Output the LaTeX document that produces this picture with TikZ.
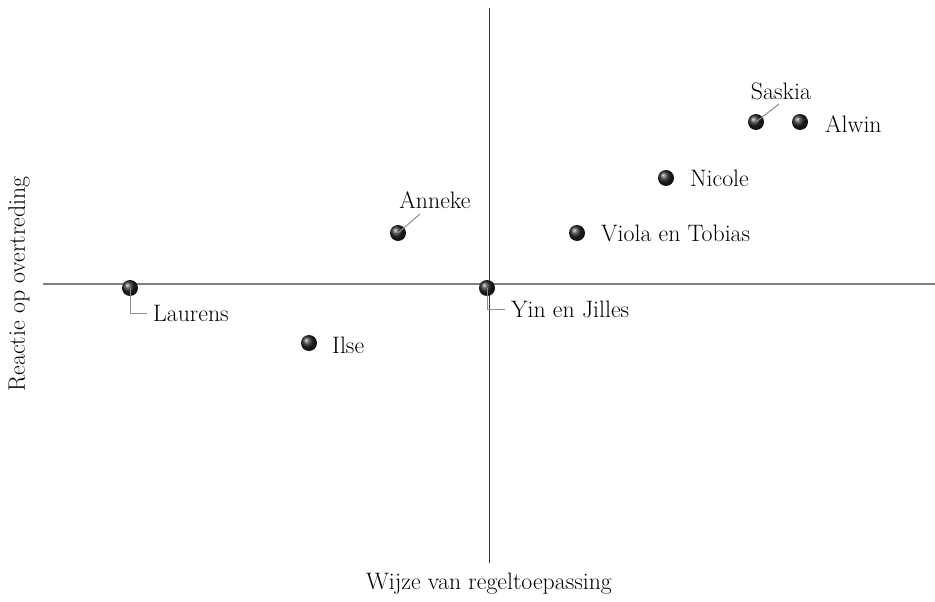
\documentclass[tikz,border=0pt]{standalone}
\usetikzlibrary{calc}
\begin{document}
\begin{tikzpicture}[x=1pt,y=-1pt,
  haxis/.style={draw=black!50,line width=1.8pt},
  vaxis/.style={draw=black!80,line width=0.9pt},
  leader/.style={draw=black!45,line width=1pt},
  dot/.style={circle,inner sep=0pt,minimum size=16pt,shading=ball,ball color=black!85},
  lbl/.style={inner sep=0pt,font=\fontsize{23.8}{28}\selectfont,text=black},
  ]
\useasboundingbox (0,0) rectangle (935,602);
% axes
\coordinate (xl) at (43,284);
\coordinate (xr) at (935,284);
\coordinate (yt) at (489,8);
\coordinate (yb) at (489,563);
\draw[haxis] (xl) -- (xr);
\draw[vaxis] (yt) -- (yb);
\node[lbl,rotate=90] (ylab) at (19,284) {Reactie op overtreding};
\node[lbl] (xlab) at (489,584) {Wijze van regeltoepassing};
% points
\node[dot] (pLaurens) at (130,288) {};
\node[dot] (pIlse) at (309,343) {};
\node[dot] (pAnneke) at (398,233) {};
\node[dot] (pYin) at (487,288) {};
\node[dot] (pViola) at (577,233) {};
\node[dot] (pNicole) at (666,178) {};
\node[dot] (pSaskia) at (756,122) {};
\node[dot] (pAlwin) at (800,122) {};
% labels
\node[lbl,anchor=west] (lLaurens) at (153,313) {Laurens};
\node[lbl,anchor=west] (lIlse) at (332,345) {Ilse};
\node[lbl] (lAnneke) at (435,200) {Anneke};
\node[lbl,anchor=west] (lYin) at (511,309) {Yin en Jilles};
\node[lbl,anchor=west] (lViola) at (601,233) {Viola en Tobias};
\node[lbl,anchor=west] (lNicole) at (690,178) {Nicole};
\node[lbl] (lSaskia) at (781,91) {Saskia};
\node[lbl,anchor=west] (lAlwin) at (825,124) {Alwin};
% leaders
\coordinate (eLaurens) at ($(lLaurens.west)+(-6,0)$);
\coordinate (eYin) at ($(lYin.west)+(-6,0)$);
\coordinate (eAnneke) at (420,214);
\coordinate (eSaskia) at (779,104);
\draw[leader] (pLaurens.center) |- (eLaurens);
\draw[leader] (pYin.center) |- (eYin);
\draw[leader] (pAnneke.center) -- (eAnneke);
\draw[leader] (pSaskia.center) -- (eSaskia);
\end{tikzpicture}
\end{document}
